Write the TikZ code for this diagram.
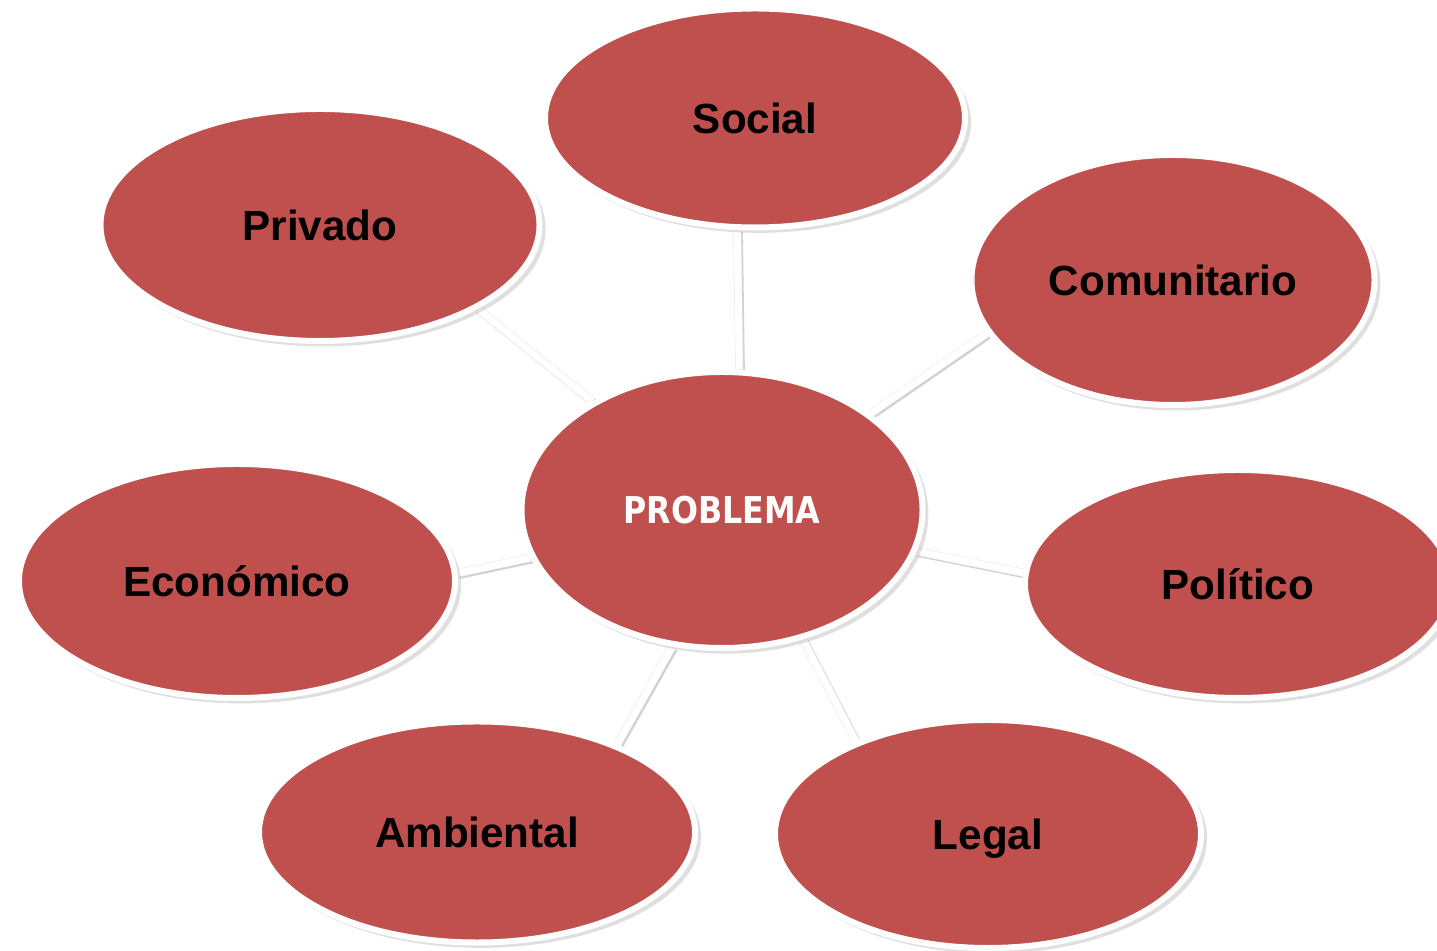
\documentclass[tikz,border=0pt]{standalone}
\usepackage{fontspec}
\setmainfont{Liberation Sans}
\newfontfamily\probfont[FakeStretch=0.86]{DejaVu Sans}
\usetikzlibrary{positioning,shapes,shadows,backgrounds}
\definecolor{redfill}{HTML}{C0504D}
\tikzset{
  topic/.style={ellipse, fill=redfill, draw=white, line width=3.4pt, inner sep=0pt, text depth=0pt,
    drop shadow={shadow xshift=2.2pt, shadow yshift=-2.4pt, shadow scale=1.01, opacity=0.25},
    font=\fontsize{24}{28}\selectfont\bfseries, text=black},
  core/.style={topic, font=\probfont\fontsize{21}{25}\selectfont\bfseries, text=white},
  link/.style={draw=black!9, double=white, double distance=4pt, line width=0.3pt,
    preaction={draw=black!18, line width=4.4pt, transform canvas={xshift=1pt,yshift=-1pt}}}
}

\begin{document}
\begin{tikzpicture}
  \useasboundingbox (0,0) rectangle (28.74,19.02);
  \node[core,  minimum width=8.02cm, minimum height=5.52cm] (problema) at (14.44,8.82) {PROBLEMA};
  \node[topic, minimum width=8.4cm,  minimum height=4.38cm] (social) at (15.10,16.66) {Social};
  \node[topic, minimum width=8.78cm, minimum height=4.64cm] (privado) at (6.40,14.52) {Privado};
  \node[topic, minimum width=8.06cm, minimum height=5.0cm]  (comunitario) at (23.46,13.42) {Comunitario};
  \node[topic, minimum width=8.72cm, minimum height=4.68cm] (economico) at (4.74,7.40) {Económico};
  \node[topic, minimum width=8.52cm, minimum height=4.56cm] (politico) at (24.76,7.34) {Político};
  \node[topic, minimum width=8.72cm, minimum height=4.42cm] (ambiental) at (9.54,2.38) {Ambiental};
  \node[topic, minimum width=8.52cm, minimum height=4.56cm] (legal) at (19.76,2.34) {Legal};
  % connectors sit behind the ellipses
  \begin{pgfonlayer}{background}
    \draw[link] (problema.83)  -- (social.261);
    \draw[link] (problema.140) -- (privado.-28);
    \draw[link] (problema.33)  -- (comunitario.196);
    \draw[link] (problema.194) -- (economico.2);
    \draw[link] (problema.-12) -- (politico.177);
    \draw[link] (problema.250) -- (ambiental.32);
    \draw[link] (problema.-58) -- (legal.145);
  \end{pgfonlayer}
\end{tikzpicture}
\end{document}
